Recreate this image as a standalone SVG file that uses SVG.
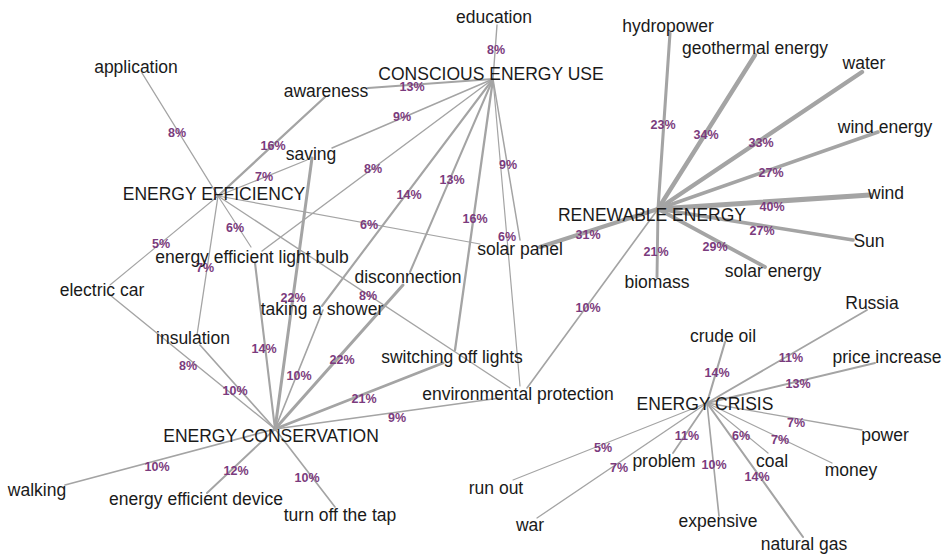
<svg xmlns="http://www.w3.org/2000/svg" width="946" height="556" viewBox="0 0 946 556">
<style>
.e{stroke:#a4a4a4;stroke-linecap:round;fill:none}
.p{font-family:"Liberation Sans",Arial,sans-serif;font-size:12.5px;font-weight:bold;fill:#7b3b7d;text-anchor:middle}
.t{font-family:"Liberation Sans",Arial,sans-serif;font-size:17.5px;fill:#1a1a1a;text-anchor:middle}
</style>
<rect width="946" height="556" fill="#ffffff"/>
<g id="connectors">
<!-- CONSCIOUS ENERGY USE -->
<line class="e" x1="493" y1="79" x2="497" y2="25" stroke-width="1.4"/>
<line class="e" x1="493" y1="79" x2="368" y2="88" stroke-width="2.0"/>
<line class="e" x1="493" y1="79" x2="332" y2="148" stroke-width="1.5"/>
<line class="e" x1="493" y1="79" x2="262" y2="251" stroke-width="1.4"/>
<line class="e" x1="493" y1="79" x2="322" y2="306" stroke-width="2.1"/>
<line class="e" x1="493" y1="79" x2="410" y2="272" stroke-width="2.0"/>
<line class="e" x1="493" y1="79" x2="455" y2="350" stroke-width="2.3"/>
<line class="e" x1="493" y1="79" x2="520" y2="240" stroke-width="1.5"/>
<line class="e" x1="493" y1="79" x2="520" y2="386" stroke-width="1.2"/>
<!-- ENERGY EFFICIENCY -->
<line class="e" x1="218" y1="196" x2="142" y2="73" stroke-width="1.4"/>
<line class="e" x1="218" y1="196" x2="325" y2="97" stroke-width="2.3"/>
<line class="e" x1="218" y1="196" x2="307" y2="160" stroke-width="1.3"/>
<line class="e" x1="218" y1="196" x2="251" y2="247" stroke-width="1.2"/>
<line class="e" x1="218" y1="196" x2="110" y2="285" stroke-width="1.1"/>
<line class="e" x1="218" y1="196" x2="197" y2="335" stroke-width="1.3"/>
<line class="e" x1="218" y1="196" x2="480" y2="244" stroke-width="1.2"/>
<line class="e" x1="218" y1="196" x2="510" y2="388" stroke-width="1.4"/>
<!-- ENERGY CONSERVATION -->
<line class="e" x1="275" y1="429" x2="110" y2="295" stroke-width="1.4"/>
<line class="e" x1="275" y1="429" x2="200" y2="345" stroke-width="1.65"/>
<line class="e" x1="275" y1="429" x2="255" y2="263" stroke-width="2.1"/>
<line class="e" x1="275" y1="429" x2="312" y2="158" stroke-width="3.0"/>
<line class="e" x1="275" y1="429" x2="323" y2="310" stroke-width="1.65"/>
<line class="e" x1="275" y1="429" x2="403" y2="285" stroke-width="3.0"/>
<line class="e" x1="275" y1="429" x2="443" y2="363" stroke-width="2.9"/>
<line class="e" x1="275" y1="429" x2="500" y2="398" stroke-width="1.5"/>
<line class="e" x1="275" y1="429" x2="65" y2="485" stroke-width="1.65"/>
<line class="e" x1="275" y1="429" x2="207" y2="493" stroke-width="1.9"/>
<line class="e" x1="275" y1="429" x2="335" y2="507" stroke-width="1.65"/>
<!-- RENEWABLE ENERGY -->
<line class="e" x1="658" y1="209" x2="670" y2="33" stroke-width="3.1"/>
<line class="e" x1="658" y1="209" x2="755" y2="55" stroke-width="4.4"/>
<line class="e" x1="658" y1="209" x2="862" y2="72" stroke-width="4.3"/>
<line class="e" x1="658" y1="209" x2="878" y2="132" stroke-width="3.6"/>
<line class="e" x1="658" y1="209" x2="870" y2="195" stroke-width="5.1"/>
<line class="e" x1="658" y1="209" x2="853" y2="240" stroke-width="3.6"/>
<line class="e" x1="658" y1="209" x2="765" y2="267" stroke-width="3.8"/>
<line class="e" x1="658" y1="209" x2="657" y2="277" stroke-width="2.9"/>
<line class="e" x1="658" y1="209" x2="540" y2="247" stroke-width="4.1"/>
<line class="e" x1="658" y1="209" x2="527" y2="388" stroke-width="1.65"/>
<!-- ENERGY CRISIS -->
<line class="e" x1="707" y1="403" x2="867" y2="310" stroke-width="1.8"/>
<line class="e" x1="707" y1="403" x2="725" y2="342" stroke-width="2.1"/>
<line class="e" x1="707" y1="403" x2="875" y2="363" stroke-width="2.0"/>
<line class="e" x1="707" y1="403" x2="862" y2="430" stroke-width="1.3"/>
<line class="e" x1="707" y1="403" x2="832" y2="463" stroke-width="1.3"/>
<line class="e" x1="707" y1="403" x2="768" y2="453" stroke-width="1.2"/>
<line class="e" x1="707" y1="403" x2="803" y2="537" stroke-width="2.1"/>
<line class="e" x1="707" y1="403" x2="719" y2="516" stroke-width="1.65"/>
<line class="e" x1="707" y1="403" x2="673" y2="453" stroke-width="1.8"/>
<line class="e" x1="707" y1="403" x2="513" y2="480" stroke-width="1.1"/>
<line class="e" x1="707" y1="403" x2="537" y2="518" stroke-width="1.3"/>
<!-- edge labels -->
<text class="p" x="496" y="54">8%</text>
<text class="p" x="412" y="91">13%</text>
<text class="p" x="402" y="121">9%</text>
<text class="p" x="373" y="173">8%</text>
<text class="p" x="409" y="199">14%</text>
<text class="p" x="452" y="184">13%</text>
<text class="p" x="475" y="223">16%</text>
<text class="p" x="508" y="169">9%</text>
<text class="p" x="507" y="241">6%</text>
<text class="p" x="177" y="137">8%</text>
<text class="p" x="273" y="150">16%</text>
<text class="p" x="264" y="181">7%</text>
<text class="p" x="235" y="232">6%</text>
<text class="p" x="161" y="248">5%</text>
<text class="p" x="205" y="272">7%</text>
<text class="p" x="369" y="229">6%</text>
<text class="p" x="368" y="300">8%</text>
<text class="p" x="188" y="370">8%</text>
<text class="p" x="235" y="395">10%</text>
<text class="p" x="264" y="353">14%</text>
<text class="p" x="293" y="302">22%</text>
<text class="p" x="299" y="380">10%</text>
<text class="p" x="342" y="364">22%</text>
<text class="p" x="364" y="403">21%</text>
<text class="p" x="397" y="422">9%</text>
<text class="p" x="157" y="471">10%</text>
<text class="p" x="236" y="475">12%</text>
<text class="p" x="307" y="482">10%</text>
<text class="p" x="663" y="129">23%</text>
<text class="p" x="706" y="139">34%</text>
<text class="p" x="761" y="147">33%</text>
<text class="p" x="771" y="177">27%</text>
<text class="p" x="772" y="211">40%</text>
<text class="p" x="762" y="235">27%</text>
<text class="p" x="715" y="251">29%</text>
<text class="p" x="656" y="256">21%</text>
<text class="p" x="588" y="239">31%</text>
<text class="p" x="588" y="312">10%</text>
<text class="p" x="791" y="362">11%</text>
<text class="p" x="717" y="377">14%</text>
<text class="p" x="798" y="388">13%</text>
<text class="p" x="796" y="427">7%</text>
<text class="p" x="780" y="444">7%</text>
<text class="p" x="741" y="440">6%</text>
<text class="p" x="757" y="481">14%</text>
<text class="p" x="714" y="469">10%</text>
<text class="p" x="687" y="440">11%</text>
<text class="p" x="603" y="452">5%</text>
<text class="p" x="619" y="472">7%</text>
</g>
<g id="node-conscious-energy-use"><text class="t" x="491" y="80">CONSCIOUS ENERGY USE</text></g>
<g id="node-energy-efficiency"><text class="t" x="214" y="200">ENERGY EFFICIENCY</text></g>
<g id="node-renewable-energy"><text class="t" x="652" y="221">RENEWABLE ENERGY</text></g>
<g id="node-energy-conservation"><text class="t" x="271" y="442">ENERGY CONSERVATION</text></g>
<g id="node-energy-crisis"><text class="t" x="705" y="410">ENERGY CRISIS</text></g>
<g id="node-education"><text class="t" x="494" y="23">education</text></g>
<g id="node-application"><text class="t" x="136" y="73">application</text></g>
<g id="node-awareness"><text class="t" x="326" y="97">awareness</text></g>
<g id="node-saving"><text class="t" x="311" y="160">saving</text></g>
<g id="node-energy-efficient-light-bulb"><text class="t" x="252" y="263">energy efficient light bulb</text></g>
<g id="node-electric-car"><text class="t" x="102" y="296">electric car</text></g>
<g id="node-insulation"><text class="t" x="193" y="344">insulation</text></g>
<g id="node-taking-a-shower"><text class="t" x="322" y="315">taking a shower</text></g>
<g id="node-disconnection"><text class="t" x="408" y="283">disconnection</text></g>
<g id="node-switching-off-lights"><text class="t" x="452" y="363">switching off lights</text></g>
<g id="node-environmental-protection"><text class="t" x="518" y="400">environmental protection</text></g>
<g id="node-solar-panel"><text class="t" x="520" y="255">solar panel</text></g>
<g id="node-walking"><text class="t" x="37" y="496">walking</text></g>
<g id="node-energy-efficient-device"><text class="t" x="196" y="505">energy efficient device</text></g>
<g id="node-turn-off-the-tap"><text class="t" x="340" y="521">turn off the tap</text></g>
<g id="node-hydropower"><text class="t" x="668" y="32">hydropower</text></g>
<g id="node-geothermal-energy"><text class="t" x="755" y="54">geothermal energy</text></g>
<g id="node-water"><text class="t" x="864" y="69">water</text></g>
<g id="node-wind-energy"><text class="t" x="885" y="133">wind energy</text></g>
<g id="node-wind"><text class="t" x="886" y="199">wind</text></g>
<g id="node-sun"><text class="t" x="869" y="247">Sun</text></g>
<g id="node-solar-energy"><text class="t" x="773" y="277">solar energy</text></g>
<g id="node-biomass"><text class="t" x="657" y="288">biomass</text></g>
<g id="node-russia"><text class="t" x="872" y="309">Russia</text></g>
<g id="node-crude-oil"><text class="t" x="723" y="342">crude oil</text></g>
<g id="node-price-increase"><text class="t" x="887" y="363">price increase</text></g>
<g id="node-power"><text class="t" x="885" y="441">power</text></g>
<g id="node-money"><text class="t" x="851" y="476">money</text></g>
<g id="node-coal"><text class="t" x="772" y="467">coal</text></g>
<g id="node-natural-gas"><text class="t" x="804" y="550">natural gas</text></g>
<g id="node-expensive"><text class="t" x="718" y="527">expensive</text></g>
<g id="node-problem"><text class="t" x="664" y="467">problem</text></g>
<g id="node-run-out"><text class="t" x="496" y="494">run out</text></g>
<g id="node-war"><text class="t" x="530" y="531">war</text></g>
</svg>
